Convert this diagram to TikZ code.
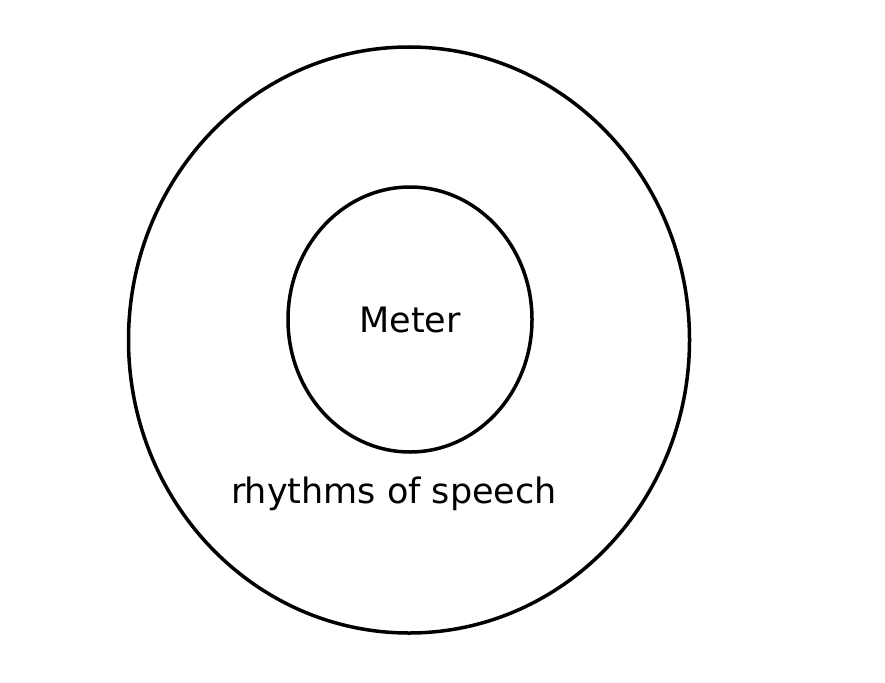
\documentclass[tikz,border=0pt]{standalone}
\usepackage{fontspec}
\setmainfont{DejaVu Sans}
\usetikzlibrary{shapes.geometric, positioning}

\begin{document}
\begin{tikzpicture}[
        x=1pt, y=-1pt,
        ring/.style={draw=black, ellipse, line width=3.5pt, inner sep=0pt},
        ringtext/.style={font=\fontsize{35}{40}\selectfont, text=black}
    ]
        \useasboundingbox (0,0) rectangle (885,682);
        % Outer ring (rhythms of speech)
        \node[ring, minimum width=561pt, minimum height=586pt] (speech) at (409,340) {};
        % Inner ring (Meter)
        \node[ring, minimum width=244pt, minimum height=265pt, ringtext] (meter) at (410,319.5) {Meter};
        \node[ringtext] (speechtext) at (394,494) {rhythms of speech};
\end{tikzpicture}
\end{document}
